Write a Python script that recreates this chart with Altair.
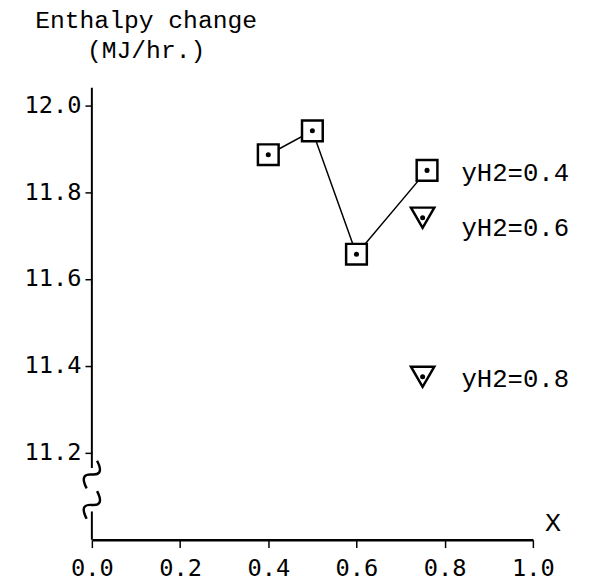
import altair as alt
import pandas as pd

# ---- data ----
sq_x = [0.4, 0.5, 0.6, 0.76]                 # yH2 = 0.4 series (connected squares)
sq_y = [11.886, 11.941, 11.657, 11.85]
tri_x = [0.75, 0.75]                          # yH2 = 0.6 and 0.8 (triangles)
tri_y = [11.741, 11.375]
label_text = ["yH2=0.4", "yH2=0.6", "yH2=0.8"]
label_x = [0.838, 0.838, 0.838]
label_y = [11.843, 11.716, 11.37]
x_ticks = [0.0, 0.2, 0.4, 0.6, 0.8, 1.0]
y_ticks = [11.2, 11.4, 11.6, 11.8, 12.0]
y_domain = [11.0, 12.04]
# axis break: squiggle positions and the two visible pieces of the y axis line
break_y = [11.15, 11.08]
axis_seg_lo = [11.0, 11.165]
axis_seg_hi = [11.065, 12.04]

sq = pd.DataFrame({"x": sq_x, "y": sq_y})
tri = pd.DataFrame({"x": tri_x, "y": tri_y})
lab = pd.DataFrame({"x": label_x, "y": label_y, "t": label_text})
brk = pd.DataFrame({"x": [0.0] * len(break_y), "y": break_y})
seg = pd.DataFrame({"x": [0.0, 0.0], "y": axis_seg_lo, "y2": axis_seg_hi})

xs = alt.Scale(domain=[0, 1], nice=False, zero=False)
ys = alt.Scale(domain=y_domain, nice=False, zero=False)

x_axis = alt.Axis(values=x_ticks, format=".1f", grid=False, labelFlush=False,
                  labelFont="DejaVu Sans Mono", labelFontSize=24, labelColor="black",
                  labelPadding=9, tickSize=8, tickWidth=1.5, tickColor="black",
                  domainColor="black", domainWidth=2.5,
                  title="X", titleX=467, titleY=-17, titleFont="Liberation Mono",
                  titleFontSize=27, titleFontWeight="normal", titleColor="black",
                  titleAlign="center", titleBaseline="middle")
y_axis = alt.Axis(values=y_ticks, format=".1f", grid=False, domain=False, labelFlush=False,
                  labelFont="DejaVu Sans Mono", labelFontSize=24, labelColor="black",
                  labelPadding=4, tickSize=7, tickWidth=1.5, tickColor="black",
                  title=None)

X = alt.X("x:Q", scale=xs, axis=x_axis)
Y = alt.Y("y:Q", scale=ys, axis=y_axis)

axis_lines = alt.Chart(seg).mark_rule(color="black", strokeWidth=2).encode(
    x=X, y=Y, y2="y2:Q")

line = alt.Chart(sq).mark_line(color="black", strokeWidth=1.5).encode(x=X, y=Y)

squares = alt.Chart(sq).mark_point(shape="square", filled=True, fill="white",
                                   stroke="black", strokeWidth=2.5,
                                   size=441, opacity=1).encode(x=X, y=Y)
tris = alt.Chart(tri).mark_point(shape="triangle-down", filled=True, fill="white",
                                 stroke="black", strokeWidth=2.5,
                                 size=560, opacity=1).encode(x=X, y=Y)
dots_sq = alt.Chart(sq).mark_point(shape="circle", filled=True, color="black",
                                   size=26, opacity=1).encode(x=X, y=Y)
dots_tri = alt.Chart(tri).mark_point(shape="circle", filled=True, color="black",
                                     size=26, opacity=1).encode(x=X, y=Y)

squiggle_path = "M -1 0.35 C -0.6 -0.6 -0.25 -0.35 0 0 C 0.25 0.35 0.6 0.6 1 -0.35"
breaks = alt.Chart(brk).mark_point(shape=squiggle_path, filled=False, color="black",
                                   strokeWidth=2.5, size=800, angle=310,
                                   opacity=1).encode(x=X, y=Y)

labels = alt.Chart(lab).mark_text(align="left", baseline="middle",
                                  font="Liberation Mono", fontSize=26,
                                  color="black").encode(x=X, y=Y, text="t:N")

chart = alt.layer(axis_lines, line, squares, tris, dots_sq, dots_tri, breaks, labels).properties(
    width=447, height=458,
    autosize=alt.AutoSizeParams(type="none"),
    padding={"left": 85, "top": 77, "right": 66, "bottom": 41},
    title=alt.TitleParams(text=["Enthalpy change", "(MJ/hr.)"], anchor="start",
                          frame="group", align="center", dx=55, offset=24,
                          font="Liberation Mono", fontSize=25, fontWeight="normal",
                          lineHeight=31, color="black"),
    background="white",
).configure_view(stroke=None)

chart.save("out.html", embed_options={"renderer": "svg", "actions": False})
